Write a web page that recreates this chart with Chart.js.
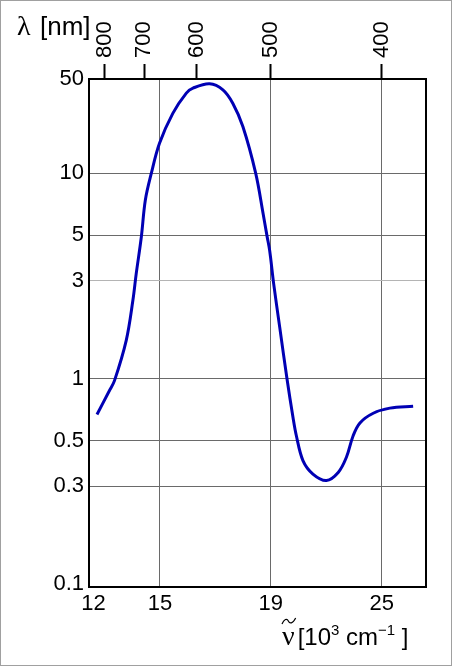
<!DOCTYPE html>
<html>
<head>
<meta charset="utf-8">
<script src="https://cdn.jsdelivr.net/npm/chart.js@4/dist/chart.umd.min.js"></script>
<style>
  html, body { margin: 0; padding: 0; background: #fff; }
  #frame { width: 452px; height: 666px; box-sizing: border-box; border: 1px solid #a0a0a0; }
  canvas { display: block; }
</style>
</head>
<body>
<div id="frame"><canvas id="chart" width="450" height="664"></canvas></div>
<script>
// spectrum: wavenumber (10^3 cm^-1) vs value (log axis)
const wavenumber = [12.16, 12.73, 12.95, 13.48, 13.78, 13.93, 14.16, 14.34, 14.61, 14.98,
    15.58, 16.19, 16.49, 17.24, 17.84, 18.29, 18.74, 19.32, 19.65, 19.83,
    19.95, 20.13, 20.40, 20.73, 21.0, 21.15, 21.45, 21.9, 22.51, 23.04,
    23.41, 23.71, 24.02, 24.62, 25.37, 26.42];
const intensity = [0.67, 0.88, 0.98, 1.54, 2.41, 3.25, 4.9, 7.4, 10, 14,
    19.6, 24.6, 26, 27.3, 25.5, 21.9, 16.9, 10, 6.4, 4.95,
    4.2, 2.9, 1.79, 1.0, 0.65, 0.53, 0.40, 0.344, 0.32, 0.35,
    0.415, 0.527, 0.61, 0.68, 0.72, 0.735];

const xTickValues = [12, 15, 20, 25];
const xTickLabels = ['12', '15', '19', '25'];
const nmTickValues = [800, 700, 600, 500, 400];
const yTickValues = [0.1, 0.3, 0.5, 1, 3, 5, 10, 50];
const yTickLabels = ['0.1', '0.3', '0.5', '1', '3', '5', '10', '50'];

const X_MIN = 11.8;
const X_MAX = 27.0;
const Y_MIN = 0.097;
const Y_MAX = 28.8; // top edge of the plot, labelled "50" in the original

const GRID = '#6a6a6a';
const GRID_LIGHT = '#b4b4b4';
const SANS = "'Liberation Sans', Arial, sans-serif";
const SERIF = "'Liberation Serif', 'DejaVu Serif', serif";

Chart.defaults.font.family = SANS;
Chart.defaults.font.size = 22;
Chart.defaults.color = '#000';

// black box round the plot, the wavelength labels and the two axis captions
const frameAndCaptions = {
    id: 'frameAndCaptions',
    afterDraw(chart) {
        const { ctx, chartArea } = chart;
        const { left, top, right, bottom } = chartArea;
        ctx.save();
        ctx.strokeStyle = '#000';
        ctx.lineWidth = 2;
        ctx.strokeRect(left, top, right - left, bottom - top);

        ctx.fillStyle = '#000';

        // wavelength labels, read upwards, above the top ticks
        const xTop = chart.scales.xTop;
        ctx.font = `22px ${SANS}`;
        ctx.textAlign = 'left';
        ctx.textBaseline = 'middle';
        nmTickValues.forEach((nm) => {
            const px = xTop.getPixelForValue(1e4 / nm);
            ctx.save();
            ctx.translate(px, top - 21);
            ctx.rotate(-Math.PI / 2);
            ctx.fillText(String(nm), 0, 0);
            ctx.restore();
        });

        ctx.textBaseline = 'alphabetic';

        // lambda [nm]
        ctx.font = `28px ${SERIF}`;
        ctx.fillText('λ', 16, 34);
        ctx.font = `26px ${SANS}`;
        ctx.fillText('[nm]', 39, 34);

        // nu-tilde [10^3 cm^-1]
        let x = 281;
        const base = 644;
        ctx.font = `28px ${SERIF}`;
        ctx.fillText('ν', x, base);
        const nuW = ctx.measureText('ν').width;
        ctx.beginPath();
        ctx.lineWidth = 1.2;
        ctx.moveTo(x, base - 21);
        ctx.bezierCurveTo(x + 2, base - 26, x + 5, base - 27, x + nuW / 2, base - 24);
        ctx.bezierCurveTo(x + nuW - 5, base - 21, x + nuW - 2, base - 21, x + nuW + 1, base - 27);
        ctx.stroke();
        x += nuW + 3;

        const parts = [
            ['[10', 0, 24],
            ['3', 10, 15],
            [' cm', 0, 24],
            ['−1', 10, 15],
            [' ]', 0, 24],
        ];
        parts.forEach(([txt, rise, size]) => {
            ctx.font = `${size}px ${SANS}`;
            ctx.fillText(txt, x, base - rise);
            x += ctx.measureText(txt).width;
        });
        ctx.restore();
    },
};

new Chart(document.getElementById('chart'), {
    type: 'line',
    data: {
        datasets: [
            {
                data: wavenumber.map((w, i) => ({ x: w, y: intensity[i] })),
                borderColor: '#0000b4',
                borderWidth: 3,
                pointRadius: 0,
                tension: 0.35,
                fill: false,
            },
        ],
    },
    options: {
        responsive: false,
        animation: false,
        layout: { padding: { top: 0, right: 25, bottom: 0, left: 0 } },
        plugins: {
            legend: { display: false },
            tooltip: { enabled: false },
        },
        scales: {
            x: {
                type: 'linear',
                position: 'bottom',
                min: X_MIN,
                max: X_MAX,
                afterBuildTicks: (scale) => {
                    scale.ticks = xTickValues.map((v) => ({ value: v }));
                },
                afterFit: (scale) => {
                    scale.height = 78;
                },
                ticks: {
                    autoSkip: false,
                    maxRotation: 0,
                    padding: 4,
                    callback: (value, index) => xTickLabels[index],
                },
                grid: {
                    drawTicks: false,
                    color: (ctx) => (ctx.tick && ctx.tick.value === 12 ? 'rgba(0,0,0,0)' : GRID),
                    lineWidth: 1,
                },
                border: { display: false },
            },
            xTop: {
                type: 'linear',
                position: 'top',
                min: X_MIN,
                max: X_MAX,
                afterBuildTicks: (scale) => {
                    scale.ticks = nmTickValues.map((nm) => ({ value: 1e4 / nm }));
                },
                afterFit: (scale) => {
                    scale.height = 78;
                },
                ticks: { display: false, autoSkip: false },
                grid: {
                    drawOnChartArea: false,
                    drawTicks: true,
                    tickLength: 15,
                    tickWidth: 2,
                    tickColor: '#000',
                },
                border: { display: false },
            },
            y: {
                type: 'logarithmic',
                position: 'left',
                min: Y_MIN,
                max: Y_MAX,
                afterBuildTicks: (scale) => {
                    scale.ticks = yTickValues.map((v) => ({ value: Math.min(v, Y_MAX) }));
                },
                afterFit: (scale) => {
                    scale.width = 88;
                },
                ticks: {
                    autoSkip: false,
                    padding: 5,
                    callback: (value, index) => yTickLabels[index],
                },
                grid: {
                    drawTicks: false,
                    color: (ctx) => {
                        if (!ctx.tick) return GRID;
                        const v = ctx.tick.value;
                        if (v <= 0.1 || v >= Y_MAX) return 'rgba(0,0,0,0)';
                        return v === 3 ? GRID_LIGHT : GRID;
                    },
                    lineWidth: 1,
                },
                border: { display: false },
            },
        },
    },
    plugins: [frameAndCaptions],
});
</script>
</body>
</html>
